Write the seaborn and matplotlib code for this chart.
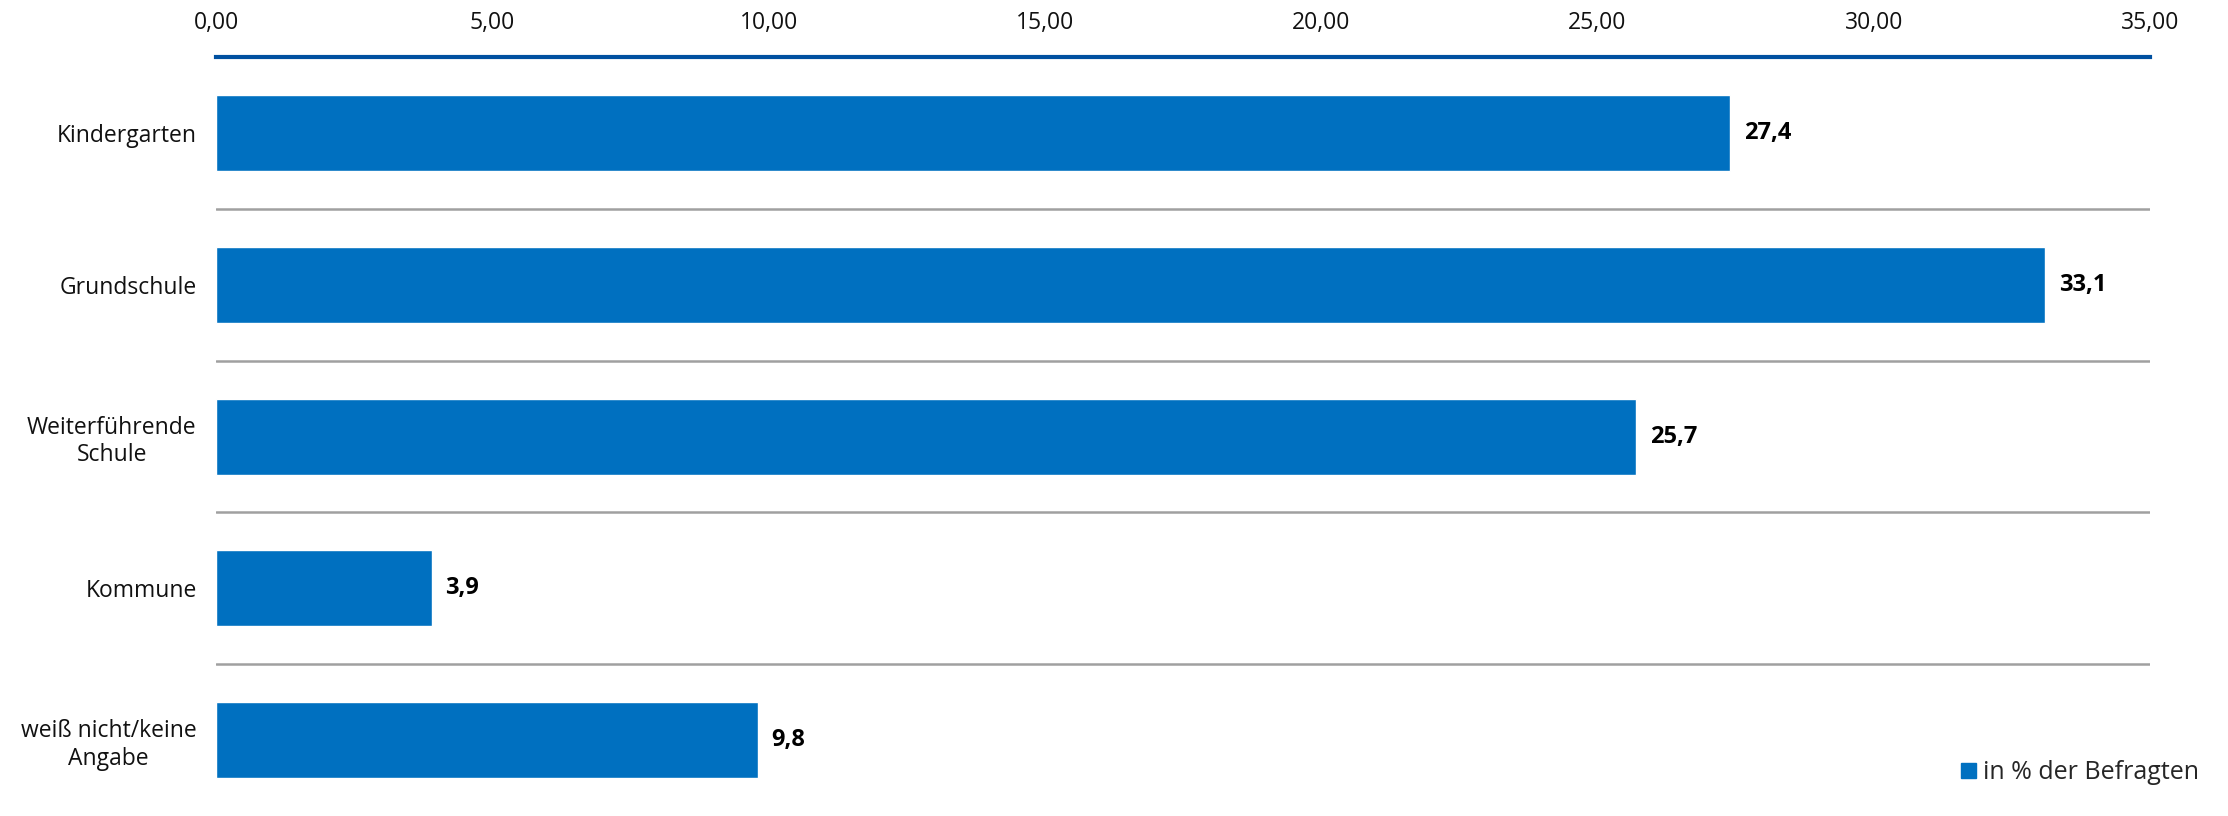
import seaborn as sns
import pandas as pd
import matplotlib.pyplot as plt
from matplotlib.patches import Patch
from matplotlib.ticker import FuncFormatter

categories = ["Kindergarten", "Grundschule", "Weiterführende\nSchule", "Kommune", "weiß nicht/keine\nAngabe"]
values = [27.4, 33.1, 25.7, 3.9, 9.8]
series_name = "in % der Befragten"
xticks = [0, 5, 10, 15, 20, 25, 30, 35]

df = pd.DataFrame({"Kategorie": categories, "Wert": values})

sns.set_theme(style="white")
plt.rcParams['font.family'] = ['Open Sans', 'DejaVu Sans']

bar_color = "#0070C0"
fig = plt.figure(figsize=(22.28, 8.16), dpi=100)
ax = fig.add_axes([0.097, 0.0, 0.868, 0.930])

sns.barplot(data=df, x="Wert", y="Kategorie", color=bar_color, width=0.5,
            saturation=1, ax=ax)

ax.set_xlim(0, 35)
ax.set_ylim(len(categories) - 0.5, -0.5)
ax.set_xticks(xticks)
ax.xaxis.set_major_formatter(FuncFormatter(lambda v, p: f"{v:.2f}".replace(".", ",")))
ax.xaxis.tick_top()
ax.tick_params(axis='x', length=0, pad=16, labelsize=16.5, colors="#111111")
ax.tick_params(axis='y', length=0, pad=14, labelsize=16.5, colors="#111111")
for lbl in ax.get_yticklabels():
    lbl.set_multialignment('center')
ax.set_xlabel("")
ax.set_ylabel("")

for s in ["left", "right", "bottom"]:
    ax.spines[s].set_visible(False)
ax.spines["top"].set_color("#0050A0")
ax.spines["top"].set_linewidth(3)

# separator lines between categories
for i in range(len(categories) - 1):
    ax.axhline(i + 0.5, color="#A0A0A0", linewidth=1.8, zorder=0)

for i, v in enumerate(values):
    ax.text(v + 0.25, i, f"{v:.1f}".replace(".", ","), va="center", ha="left",
            fontsize=17, fontweight="bold", color="black")

handle = Patch(facecolor=bar_color, edgecolor=bar_color)
fig.legend([handle], [series_name], loc="center right", bbox_to_anchor=(0.9915, 0.053),
           frameon=False, fontsize=18, handlelength=0.6, handleheight=0.6,
           handletextpad=0.3, borderaxespad=0)

fig.savefig("out.png", dpi=100)
